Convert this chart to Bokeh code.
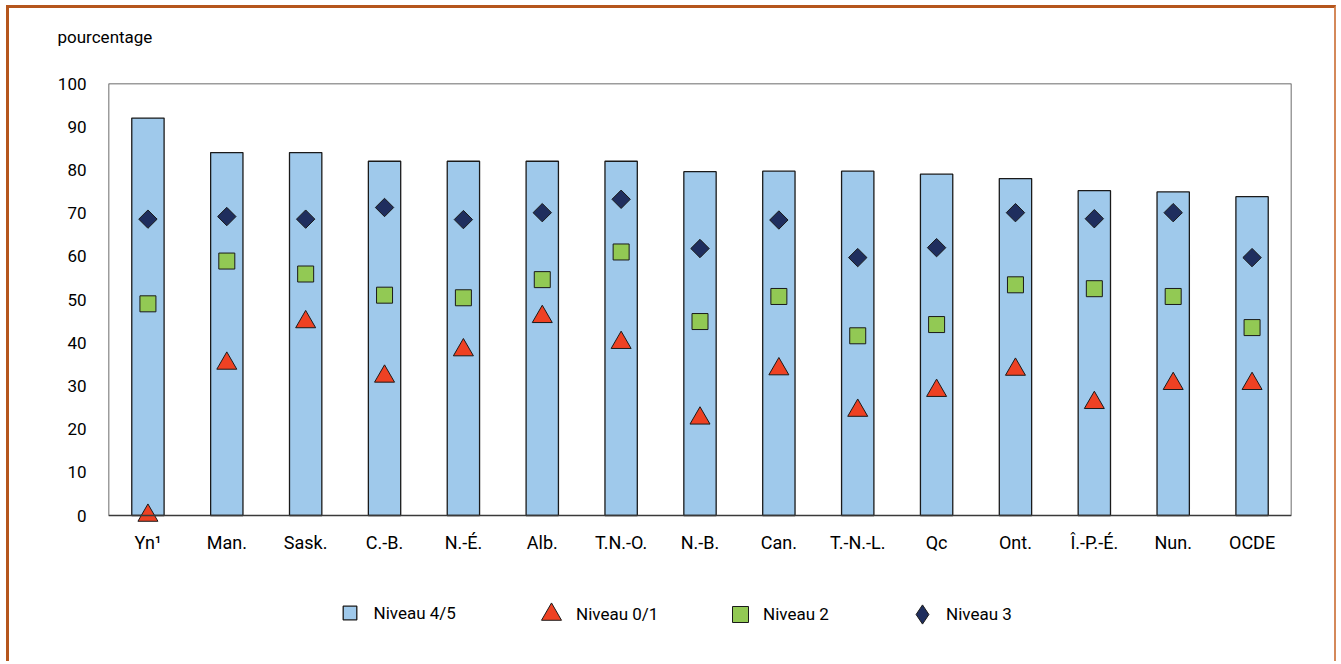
import math

from bokeh.core.properties import value
from bokeh.embed import file_html
from bokeh.models import (BoxAnnotation, ColumnDataSource, FactorRange, FixedTicker,
                          Legend, LegendItem, Range1d, Title)
from bokeh.plotting import figure
from bokeh.resources import INLINE

# Provinces / territories, OECD average last
categories = ["Yn\u00b9", "Man.", "Sask.", "C.-B.", "N.-\u00c9.", "Alb.", "T.N.-O.",
              "N.-B.", "Can.", "T.-N.-L.", "Qc", "Ont.", "\u00ce.-P.-\u00c9.", "Nun.", "OCDE"]

# Percentages by proficiency level
niveau_45 = [92, 84, 84, 82, 82, 82, 82, 79.6, 79.7, 79.7, 79, 78, 75.2, 74.9, 73.8]
niveau_01 = [0, 35.2, 44.8, 32.2, 38.3, 46, 40, 22.5, 33.9, 24.3, 28.9, 33.8, 26.1, 30.5, 30.5]
niveau_2 = [49, 58.9, 55.9, 51, 50.4, 54.6, 61, 44.9, 50.7, 41.6, 44.2, 53.4, 52.5, 50.7, 43.5]
niveau_3 = [68.6, 69.2, 68.6, 71.3, 68.5, 70.1, 73.2, 61.8, 68.4, 59.7, 62, 70.1, 68.7, 70.1, 59.7]

y_ticks = [0, 10, 20, 30, 40, 50, 60, 70, 80, 90, 100]

FONT = "Roboto"
BAR_FILL = "#9fc9eb"
EDGE = "#1a1a1a"

# Page geometry (pixels): the plotting frame runs below the value axis so the
# legend row can sit inside it; the 0-100 box is drawn separately.
FRAME_LEFT = 108
FRAME_TOP = 83
ZERO_Y = 515
FRAME_BOTTOM = 644
Y_MIN = -(FRAME_BOTTOM - ZERO_Y) * 100.0 / (ZERO_Y - FRAME_TOP)

src = ColumnDataSource(dict(cat=categories, n45=niveau_45, n01=niveau_01,
                            n2=niveau_2, n3=niveau_3))

p = figure(
    x_range=FactorRange(factors=categories, range_padding=0),
    y_range=Range1d(Y_MIN, 100),
    width=1330, height=656, title=None,
    x_axis_location=None,
    output_backend="svg", toolbar_location=None,
    min_border_left=99, min_border_right=48,
    min_border_top=75, min_border_bottom=20,
)
p.styles = {
    "border-left": "3px solid #b5561d",
    "border-top": "3px solid #b5561d",
    "border-right": "2px solid #d4895a",
    "margin-left": "6px",
    "margin-top": "5px",
}

p.background_fill_color = "white"
p.border_fill_color = "white"
p.outline_line_color = None
p.grid.visible = False

yax = p.yaxis[0]
yax.ticker = FixedTicker(ticks=y_ticks)
yax.axis_line_color = None
yax.major_tick_line_color = None
yax.minor_tick_line_color = None
yax.major_label_text_font = FONT
yax.major_label_text_font_size = "17px"
yax.major_label_text_color = "#000000"
yax.major_label_standoff = 16

# Chart box from 0 to 100 across the full width
p.add_layout(BoxAnnotation(bottom=0, top=100, fill_alpha=0,
                           line_color="#3a3a3a", line_alpha=1.0, line_width=1.5))

bars = p.vbar(x="cat", top="n45", bottom=0, width=0.41, source=src,
              fill_color=BAR_FILL, line_color=EDGE, line_width=1.3)
tri = p.scatter(x="cat", y="n01", source=src, marker="triangle", size=20,
                fill_color="#ee4123", line_color=EDGE, line_width=1)
sq = p.scatter(x="cat", y="n2", source=src, marker="square", size=16,
               fill_color="#92c954", line_color=EDGE, line_width=1)
dia = p.scatter(x="cat", y="n3", source=src, marker="square", angle=math.pi / 4, size=13,
                fill_color="#1f2e5e", line_color=EDGE, line_width=1)
# Upright diamond used only for the legend key
dia_key = p.scatter(x="cat", y="n3", source=src, marker="diamond", size=19,
                    fill_color="#1f2e5e", line_color=EDGE, line_width=1, visible=False)

# Category labels under the baseline
p.text(x="cat", y=0, text="cat", source=src, y_offset=27,
       text_align="center", text_baseline="middle",
       text_font=value(FONT), text_font_size=value("18px"), text_color="#000000")

ROW_Y = 614


def add_key(rend, label, g, cx, text_x):
    left = cx - g / 2
    p.add_layout(Legend(
        items=[LegendItem(label=label, renderers=[rend])],
        location=(left - FRAME_LEFT, FRAME_BOTTOM - (ROW_Y - g / 2) - g),
        orientation="horizontal",
        glyph_width=g, glyph_height=g, label_height=g,
        label_standoff=int(round(text_x - left - g)),
        padding=0, margin=0, spacing=0,
        border_line_color=None, background_fill_color=None,
        inactive_fill_alpha=0,
        label_text_font=FONT, label_text_font_size="17px",
        label_text_color="#000000",
    ))


add_key(bars, "Niveau 4/5", 17, 349, 374)
add_key(tri, "Niveau 0/1", 50, 551, 570)
add_key(sq, "Niveau 2", 40, 740, 763)
add_key(dia_key, "Niveau 3", 48, 922, 944)

# Empty spacer keeps the axis caption clear of the frame
p.add_layout(Title(text=" ", text_font_size="1px", standoff=34), "above")
p.add_layout(Title(text="pourcentage", align="left", offset=-51, standoff=0,
                   text_font=FONT, text_font_size="17px", text_font_style="normal",
                   text_color="#000000"), "above")

open("out.html", "w").write(file_html(p, INLINE))
